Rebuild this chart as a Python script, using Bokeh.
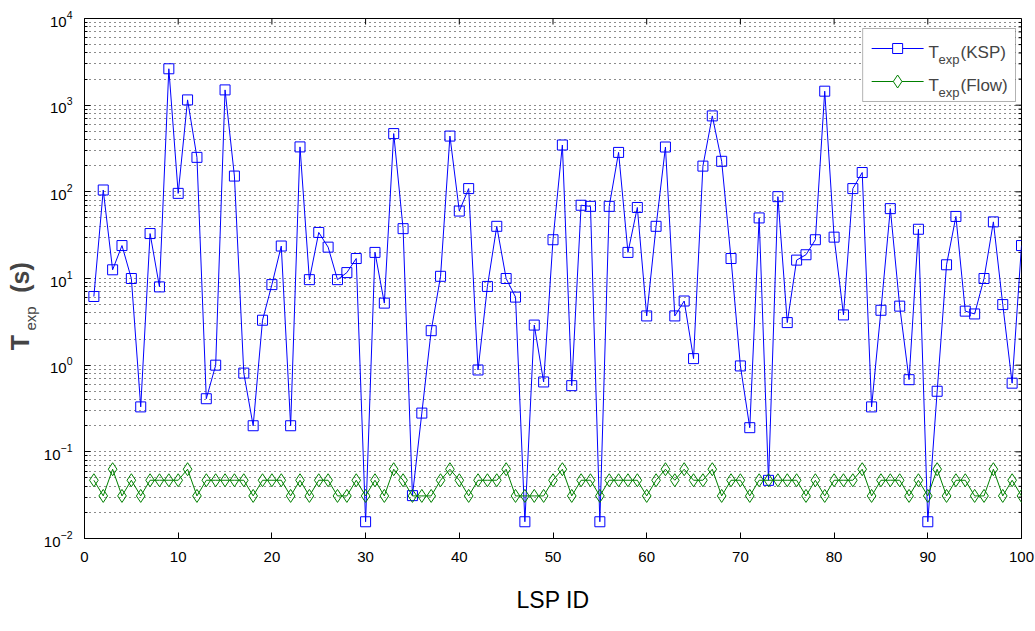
from bokeh.plotting import figure
from bokeh.layouts import row
from bokeh.models import Range1d, FixedTicker, Label, BoxAnnotation
from bokeh.embed import file_html
from bokeh.resources import INLINE

# ---------------- data ----------------
lsp_id = list(range(1, 101))

t_ksp = [6.2, 105, 12.6, 24, 10, 0.33, 33, 8, 2630, 96,
         1150, 250, 0.41, 1.0, 1500, 152, 0.81, 0.2, 3.3, 8.5,
         23.7, 0.2, 330, 9.7, 34, 23, 9.7, 11.7, 17, 0.0156,
         20, 5.2, 470, 37.6, 0.03125, 0.28, 2.5, 10.6, 440, 60,
         109, 0.88, 8.1, 40, 10, 6.1, 0.0156, 2.9, 0.64, 28,
         347, 0.58, 70, 68, 0.0156, 68, 285, 20, 66, 3.7,
         40, 329, 3.7, 5.5, 1.19, 198, 752, 225, 17, 0.98,
         0.19, 50, 0.046875, 88, 3.1, 16.3, 18.8, 28, 1450, 30,
         3.8, 109, 167, 0.33, 4.3, 64, 4.8, 0.68, 37, 0.0156,
         0.5, 14.4, 52, 4.2, 3.9, 10, 45, 5.0, 0.62, 24]

t_flow = [0.047, 0.031, 0.063, 0.031, 0.047, 0.031, 0.047, 0.047, 0.047, 0.047,
          0.063, 0.031, 0.047, 0.047, 0.047, 0.047, 0.047, 0.031, 0.047, 0.047,
          0.047, 0.031, 0.047, 0.031, 0.047, 0.047, 0.031, 0.031, 0.047, 0.031,
          0.047, 0.031, 0.063, 0.047, 0.031, 0.031, 0.031, 0.047, 0.063, 0.047,
          0.031, 0.047, 0.047, 0.047, 0.063, 0.031, 0.031, 0.031, 0.031, 0.047,
          0.063, 0.031, 0.047, 0.047, 0.031, 0.047, 0.047, 0.047, 0.047, 0.031,
          0.047, 0.063, 0.047, 0.063, 0.047, 0.047, 0.063, 0.031, 0.047, 0.047,
          0.031, 0.047, 0.047, 0.047, 0.047, 0.047, 0.031, 0.047, 0.031, 0.047,
          0.047, 0.047, 0.063, 0.031, 0.047, 0.047, 0.047, 0.031, 0.047, 0.031,
          0.063, 0.031, 0.047, 0.047, 0.031, 0.031, 0.063, 0.031, 0.047, 0.031]

x_ticks = [0, 10, 20, 30, 40, 50, 60, 70, 80, 90, 100]
y_ticks = [1e-2, 1e-1, 1e0, 1e1, 1e2, 1e3, 1e4]
y_minor = [k * 10.0 ** e for e in range(-2, 4) for k in range(2, 10)]

# ---------------- layout ----------------
W, H = 1035, 631
LW = 40                      # width of the strip that holds the y title
FL, FR, FT, FB = 83, 1021, 18, 538
X0, X1 = 0, 100
LY0, LY1 = -2, 4
FONT = "Liberation Sans"


def dx(px):
    return X0 + (px - FL) / (FR - FL) * (X1 - X0)


def dy(py):
    return 10 ** (LY1 - (py - FT) / (FB - FT) * (LY1 - LY0))


p = figure(width=W - LW, height=H, x_range=Range1d(X0, X1), y_range=Range1d(1e-2, 1e4),
           y_axis_type="log", output_backend="svg", toolbar_location=None,
           min_border_left=FL - LW, min_border_right=W - FR, min_border_top=FT,
           min_border_bottom=H - FB)
p.background_fill_color = "white"
p.border_fill_color = "white"
p.outline_line_color = "black"

xt = FixedTicker(ticks=x_ticks, minor_ticks=[])
yt = FixedTicker(ticks=y_ticks, minor_ticks=y_minor)

xa = p.xaxis[0]
ya = p.yaxis[0]
xa.ticker = xt
ya.ticker = yt

for ax in [xa, ya]:
    ax.axis_line_color = "black"
    ax.major_tick_line_color = "black"
    ax.minor_tick_line_color = "black"
    ax.major_tick_in = 6
    ax.major_tick_out = 0
    ax.minor_tick_in = 3
    ax.minor_tick_out = 0
    ax.major_label_text_font = FONT
    ax.major_label_text_font_size = "15px"
    ax.major_label_text_color = "black"

xa.major_label_standoff = 13
ya.major_label_standoff = 12

xa.axis_label = "LSP ID"
xa.axis_label_text_font = FONT
xa.axis_label_text_font_size = "23px"
xa.axis_label_text_font_style = "normal"
xa.axis_label_text_color = "black"
xa.axis_label_standoff = 22

p.xgrid.visible = False
p.ygrid.ticker = yt
p.ygrid.grid_line_color = "black"
p.ygrid.grid_line_dash = "1 4"
p.ygrid.grid_line_alpha = 0.9
p.ygrid.minor_grid_line_color = "black"
p.ygrid.minor_grid_line_dash = "1 4"
p.ygrid.minor_grid_line_alpha = 0.9

# ticks on the top and right edges of the box (MATLAB style)
p.segment(x0=x_ticks, x1=x_ticks, y0=[dy(FT)] * len(x_ticks), y1=[dy(FT + 6)] * len(x_ticks),
          line_color="black", line_width=1)
p.segment(x0=[dx(FR)] * len(y_ticks), x1=[dx(FR - 6)] * len(y_ticks), y0=y_ticks, y1=y_ticks,
          line_color="black", line_width=1)
p.segment(x0=[dx(FR)] * len(y_minor), x1=[dx(FR - 3)] * len(y_minor), y0=y_minor, y1=y_minor,
          line_color="black", line_width=1)

# ---------------- series ----------------
BLUE = "#0000ff"
GREEN = "#008000"
p.line(lsp_id, t_ksp, line_color=BLUE, line_width=1)
p.scatter(lsp_id, t_ksp, marker="square", size=10, line_color=BLUE, fill_alpha=0, line_width=1)
p.line(lsp_id, t_flow, line_color=GREEN, line_width=1)
p.scatter(lsp_id, t_flow, marker="diamond", size=13, line_color=GREEN, fill_alpha=0, line_width=1)

# ---------------- legend ----------------
p.add_layout(BoxAnnotation(left=dx(862), right=dx(1015), top=dy(28), bottom=dy(101),
                           fill_color="white", fill_alpha=1, line_color="black", line_width=1))

for row_py, col, mk, msize, name in [(48, BLUE, "square", 10, "(KSP)"),
                                     (81, GREEN, "diamond", 13, "(Flow)")]:
    p.line([dx(871), dx(923)], [dy(row_py), dy(row_py)], line_color=col, line_width=1, level="overlay")
    p.scatter([dx(897)], [dy(row_py)], marker=mk, size=msize, line_color=col,
              fill_color="white", fill_alpha=1, level="overlay")
    p.add_layout(Label(x=dx(928), y=dy(row_py + 4), text="T", text_font=FONT,
                       text_font_size="17px", text_baseline="alphabetic", level="overlay"))
    p.add_layout(Label(x=dx(938), y=dy(row_py + 11), text="exp", text_font=FONT,
                       text_font_size="13px", text_baseline="alphabetic", level="overlay"))
    p.add_layout(Label(x=dx(960), y=dy(row_py + 4), text=name, text_font=FONT,
                       text_font_size="17px", text_baseline="alphabetic", level="overlay"))

# ---------------- y axis title (with subscript) in a narrow strip ----------------
# the strip's frame is aligned with the main frame (FT..FB), so map its y range to page pixels
t = figure(width=LW, height=H, x_range=Range1d(0, LW), y_range=Range1d(H - FB, H - FT),
           output_backend="svg", toolbar_location=None, x_axis_location=None,
           y_axis_location=None, min_border=0)
t.outline_line_color = None
t.grid.visible = False
t.background_fill_color = "white"
t.border_fill_color = "white"
for txt, cx, cy, size, style in [("T", 19, 342, "25px", "bold"),
                                 ("exp", 30, 318, "15px", "normal"),
                                 ("(s)", 19, 277, "25px", "bold")]:
    t.add_layout(Label(x=cx, y=H - cy, text=txt, angle=90, angle_units="deg",
                       text_font=FONT, text_font_size=size, text_font_style=style,
                       text_baseline="middle", text_align="center"))

layout = row(t, p, spacing=0)
open("out.html", "w").write(file_html(layout, INLINE))
